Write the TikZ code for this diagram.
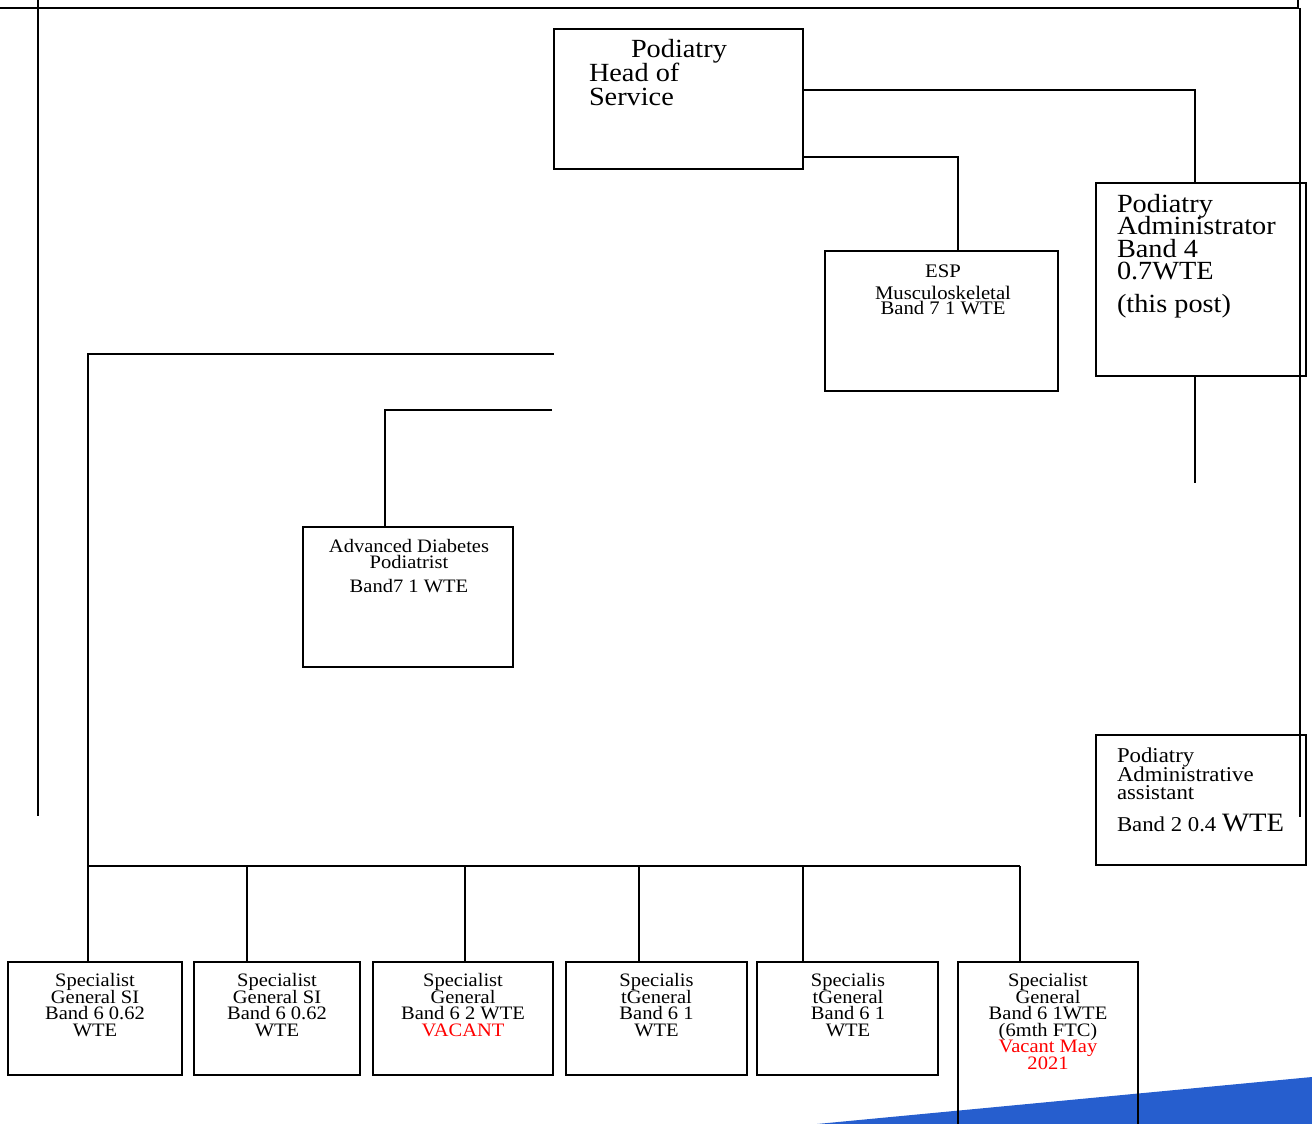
\documentclass[tikz,border=0pt]{standalone}
\usepackage{fontspec}
\setmainfont{Liberation Serif}[FakeStretch=1.08]
\newcommand\fsz[2]{\fontsize{#1}{#2}\selectfont\lineskiplimit=-100pt\lineskip=0pt}
\definecolor{vred}{RGB}{255,0,0}
\definecolor{wedge}{RGB}{38,94,206}
\begin{document}
\begin{tikzpicture}[x=1pt,y=-1pt,
  box/.style={draw,line width=1.6pt,rectangle,inner sep=0pt,outer sep=0pt},
  conn/.style={line width=1.3pt},
  txt/.style={inner sep=0pt,outer sep=0pt},
  small/.style={txt,align=center,font=\fsz{19}{16.5}}]
\useasboundingbox (0,0) rectangle (1312,1124);
% blue wedge
\fill[wedge] (817,1124) -- (1312,1077) -- (1312,1124) -- cycle;
% frame lines
\coordinate (fa) at (0,8); \coordinate (fb) at (1298,8); \coordinate (fc) at (1298,0);
\coordinate (fd) at (1300,8); \coordinate (fe) at (1300,817);
\coordinate (fg) at (38,0); \coordinate (fh) at (38,816);
\draw[conn] (fa) -- (fb) -- (fc);
\draw[conn] (fd) -- (fe);
\draw[conn] (fg) -- (fh);
% boxes
\node[box,minimum width=249pt,minimum height=140pt] (head) at (678.5,99) {};
\node[box,minimum width=233pt,minimum height=140pt] (esp) at (941.5,321) {};
\node[box,minimum width=210pt,minimum height=193pt] (admin) at (1201,279.5) {};
\node[box,minimum width=210pt,minimum height=140pt] (diab) at (408,597) {};
\node[box,minimum width=210pt,minimum height=130pt] (asst) at (1201,800) {};
\node[box,minimum width=174pt,minimum height=113pt] (b1) at (95,1018.5) {};
\node[box,minimum width=166pt,minimum height=113pt] (b2) at (277,1018.5) {};
\node[box,minimum width=180pt,minimum height=113pt] (b3) at (463,1018.5) {};
\node[box,minimum width=181pt,minimum height=113pt] (b4) at (656.5,1018.5) {};
\node[box,minimum width=181pt,minimum height=113pt] (b5) at (847.5,1018.5) {};
\node[box,minimum width=180pt,minimum height=168pt] (b6) at (1048,1046) {};
% texts
\node[txt,anchor=north west,align=left,font=\fsz{26.2}{24}] (thead) at (589,39.5)
  {\hspace*{42pt}Podiatry\\Head of\\Service};
\node[txt,anchor=north west,align=left,font=\fsz{26.2}{22.5}] (tadmin) at (1117,194)
  {Podiatry\\Administrator\\Band 4\\0.7WTE\\[10pt](this post)};
\node[txt,anchor=north,align=center,font=\fsz{19.2}{15}] (tesp) at (943,264.3)
  {ESP\\[7pt]Musculoskeletal\\Band 7 1 WTE};
\node[txt,anchor=north,align=center,font=\fsz{19}{16}] (tdiab) at (409,539)
  {Advanced Diabetes\\Podiatrist\\[8pt]Band7 1 WTE};
\node[txt,anchor=north west,align=left,font=\fsz{21.1}{18.2}] (tasst) at (1117,748.3)
  {Podiatry\\Administrative\\assistant\\[13.5pt]Band 2 0.4 {\fsz{26.5}{18.2}WTE}};
\node[small,anchor=north] (tb1) at (95,973.7) {Specialist\\General SI\\Band 6 0.62\\WTE};
\node[small,anchor=north] (tb2) at (277,973.7) {Specialist\\General SI\\Band 6 0.62\\WTE};
\node[small,anchor=north] (tb3) at (463,973.7) {Specialist\\General\\Band 6 2 WTE\\\textcolor{vred}{VACANT}};
\node[small,anchor=north] (tb4) at (656.5,973.7) {Specialis\\tGeneral\\Band 6 1\\WTE};
\node[small,anchor=north] (tb5) at (848,973.7) {Specialis\\tGeneral\\Band 6 1\\WTE};
\node[small,anchor=north] (tb6) at (1048,973.7) {Specialist\\General\\Band 6 1WTE\\(6mth FTC)\\\textcolor{vred}{Vacant May}\\\textcolor{vred}{2021}};
% connectors
\draw[conn] ([yshift=9pt]head.east) -| ([xshift=-6pt]admin.north);
\draw[conn] ([yshift=-58pt]head.east) -| ([xshift=16.5pt]esp.north);
\coordinate (adminend) at (1195,483);
\draw[conn] ([xshift=-6pt]admin.south) -- (adminend);
\coordinate (l1) at (554,354);
\coordinate (l2) at (552,410);
\draw[conn] (l1) -| ([xshift=-7pt]b1.north);
\draw[conn] (l2) -| ([xshift=-23pt]diab.north);
\coordinate (busL) at (87,866);
\coordinate (busR) at (1020,866);
\draw[conn] (busL) -- (busR);
\draw[conn] ([xshift=-30pt]b2.north) -- ++(0,-96);
\draw[conn] ([xshift=2pt]b3.north) -- ++(0,-96);
\draw[conn] ([xshift=-17.5pt]b4.north) -- ++(0,-96);
\draw[conn] ([xshift=-44.5pt]b5.north) -- ++(0,-96);
\draw[conn] ([xshift=-28pt]b6.north) -- ++(0,-96);
\end{tikzpicture}
\end{document}
